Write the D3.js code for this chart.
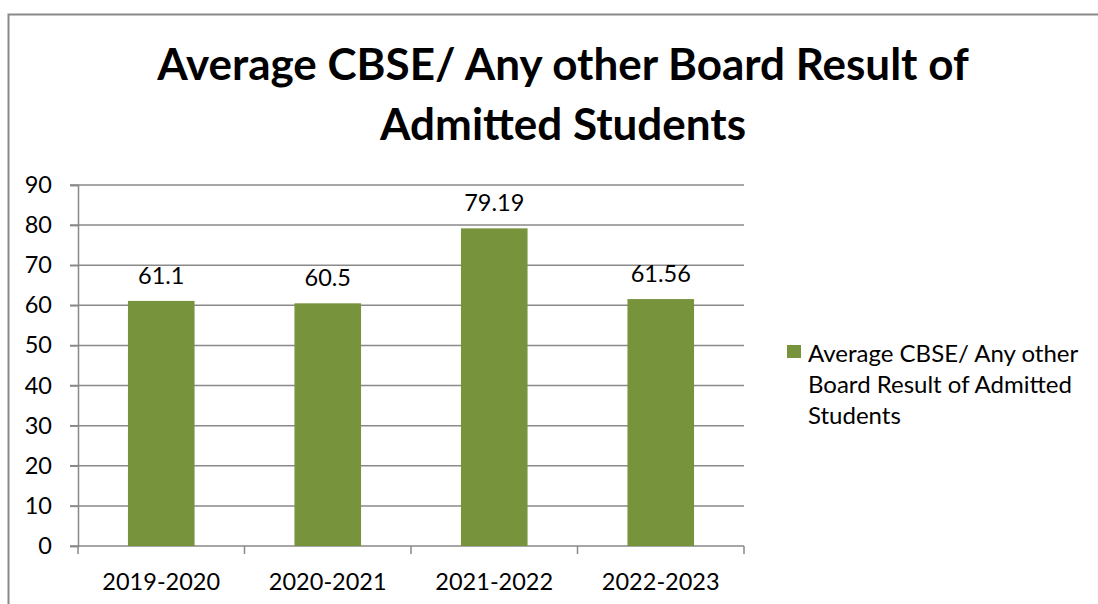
<!DOCTYPE html>
<html>
<head>
<meta charset="utf-8">
<script src="https://cdn.jsdelivr.net/npm/d3@7"></script>
<style>
  body { margin: 0; background: #fff; }
  svg text { font-family: Lato, "Open Sans", sans-serif; fill: #000; }
</style>
</head>
<body>
<svg id="chart" width="1098" height="604"></svg>
<script>
// data
const years = ['2019-2020', '2020-2021', '2021-2022', '2022-2023'];
const results = [61.1, 60.5, 79.19, 61.56];
const yTicks = [0, 10, 20, 30, 40, 50, 60, 70, 80, 90];
const titleLines = ['Average CBSE/ Any other Board Result of', 'Admitted Students'];
const legendLines = ['Average CBSE/ Any other', 'Board Result of Admitted', 'Students'];

const svg = d3.select('#chart');
const gridColor = '#898989';
const barColor = '#77933C';
const smallFont = 23.5;

// outer frame (only top/left visible)
svg.append('rect')
  .attr('x', 8.5).attr('y', 14.5)
  .attr('width', 1200).attr('height', 700)
  .attr('fill', 'none').attr('stroke', gridColor).attr('stroke-width', 2);

// title
svg.append('g').selectAll('text')
  .data(titleLines)
  .join('text')
  .attr('x', 563)
  .attr('y', (d, i) => 80 + i * 60)
  .attr('text-anchor', 'middle')
  .attr('font-size', 44)
  .attr('font-weight', 'bold')
  .text(d => d);

const x = d3.scaleBand().domain(years).range([78, 744]).paddingInner(0.6).paddingOuter(0.3);
const y = d3.scaleLinear().domain([0, 90]).range([546, 185]);

// gridlines
svg.append('g').selectAll('line')
  .data(yTicks)
  .join('line')
  .attr('x1', 70).attr('x2', 744)
  .attr('y1', d => y(d)).attr('y2', d => y(d))
  .attr('stroke', gridColor).attr('stroke-width', 1.5);

// y axis
const yAxis = svg.append('g')
  .attr('transform', 'translate(78,0)')
  .call(d3.axisLeft(y).tickValues(yTicks).tickSize(8).tickPadding(18));
yAxis.select('.domain').attr('stroke', gridColor).attr('stroke-width', 1.5);
yAxis.selectAll('.tick line').attr('stroke', gridColor).attr('stroke-width', 1.5);
yAxis.selectAll('.tick text').attr('font-size', smallFont).attr('font-family', 'Lato').attr('fill', '#000');

// x axis tick marks on band boundaries
const bounds = years.map(d => x(d) - x.step() * x.paddingInner() / 2);
bounds.push(744);
svg.append('g').selectAll('line')
  .data(bounds)
  .join('line')
  .attr('x1', d => d).attr('x2', d => d)
  .attr('y1', 546).attr('y2', 554)
  .attr('stroke', gridColor).attr('stroke-width', 1.5);

svg.append('g').selectAll('text')
  .data(years)
  .join('text')
  .attr('x', d => x(d) + x.bandwidth() / 2)
  .attr('y', 590)
  .attr('text-anchor', 'middle')
  .attr('font-size', smallFont)
  .text(d => d);

// bars
svg.append('g').selectAll('rect')
  .data(results)
  .join('rect')
  .attr('x', (d, i) => x(years[i]))
  .attr('y', d => y(d))
  .attr('width', x.bandwidth())
  .attr('height', d => y(0) - y(d))
  .attr('fill', barColor);

// data labels
svg.append('g').selectAll('text')
  .data(results)
  .join('text')
  .attr('x', (d, i) => x(years[i]) + x.bandwidth() / 2)
  .attr('y', d => y(d) - 17)
  .attr('text-anchor', 'middle')
  .attr('font-size', smallFont)
  .text(d => d);

// legend
svg.append('rect')
  .attr('x', 787).attr('y', 345)
  .attr('width', 14).attr('height', 13)
  .attr('fill', barColor);
svg.append('g').selectAll('text')
  .data(legendLines)
  .join('text')
  .attr('x', 808)
  .attr('y', (d, i) => 362 + i * 31)
  .attr('font-size', 24)
  .text(d => d);
</script>
</body>
</html>
